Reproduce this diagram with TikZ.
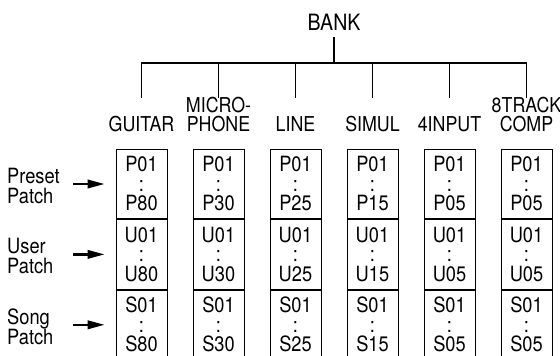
\documentclass[tikz,border=0pt]{standalone}
\usepackage{fontspec}
\setmainfont{TeX Gyre Heros}[FakeStretch=0.87]
\usetikzlibrary{arrows.meta,positioning}

\begin{document}
\begin{tikzpicture}[x=1pt, y=-1pt,
  sect/.style={rectangle, draw=black, line width=0.9pt, minimum width=51pt,
    minimum height=69.5pt, inner sep=0pt, align=center,
    font=\fontsize{21}{19.5}\selectfont},
  cat/.style={align=center, inner sep=0pt, text depth=0pt,
    font=\fontsize{20.5}{19}\selectfont},
  side/.style={align=left, inner sep=0pt, font=\fontsize{21}{20}\selectfont},
  arr/.style={-{Triangle[length=17pt, width=8.5pt]}, line width=2.2pt, shorten >=11pt},
  tree/.style={line width=1.8pt}
]
\useasboundingbox (0,0) rectangle (560,356);

\node[cat, font=\fontsize{22.5}{22}\selectfont] (bank) at (334,22) {BANK};
\coordinate (hub) at (334,63);
\draw[tree, shorten <=7pt] (bank.south) -- (hub);

% one column per bank
\foreach \n/\lbl/\last [count=\i from 0] in {gtr/GUITAR/80, mic/{MICRO-\\PHONE}/30,
    line/LINE/25, sim/SIMUL/15, four/4INPUT/05, eight/{8TRACK\\COMP}/05} {
  \node[sect] (\n-p) at (141.5+77*\i, 184) {P01\\:\\P\last};
  \node[sect, below=0pt of \n-p] (\n-u) {U01\\:\\U\last};
  \node[sect, below=0pt of \n-u] (\n-s) {S01\\:\\S\last};
  \node[cat, above=17.5pt of \n-p] (\n-name) {\lbl};
  \coordinate (\n-leg) at (141.5+77*\i, 98);
}

\draw[tree] (gtr-leg) -- (gtr-leg |- hub) -- (eight-leg |- hub) -- (eight-leg);
\foreach \n in {mic, line, sim, four}
  \draw[tree] (\n-leg |- hub) -- (\n-leg);

% patch types
\coordinate (margin) at (7,0);
\coordinate (tail) at (73,0);
\foreach \r/\txt in {p/Preset, u/User, s/Song} {
  \node[side, anchor=west] (\r-side) at ([yshift=-2pt]margin |- gtr-\r) {\txt\\Patch};
  \draw[arr] (tail |- gtr-\r) -- (gtr-\r.west);
}
\end{tikzpicture}
\end{document}
